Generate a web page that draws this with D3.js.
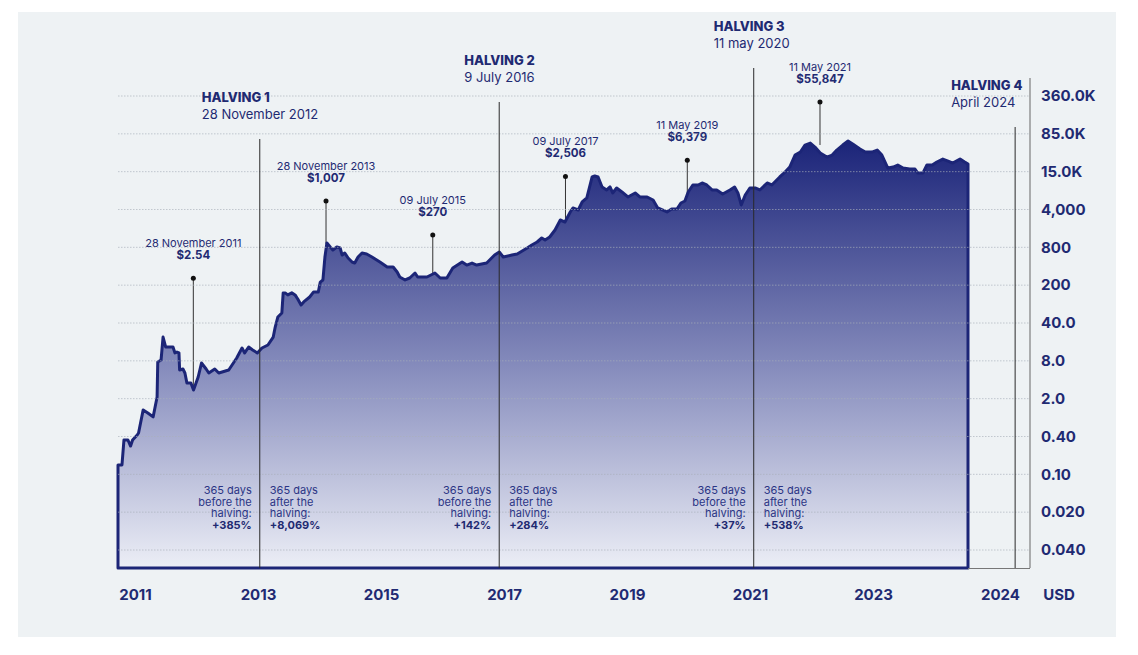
<!DOCTYPE html>
<html>
<head>
<meta charset="utf-8">
<script src="https://cdn.jsdelivr.net/npm/d3@7"></script>
<style>
  html, body { margin: 0; padding: 0; background: #ffffff; }
  svg { display: block; font-family: Inter, "Noto Sans", "DejaVu Sans", sans-serif; }
</style>
</head>
<body>
<svg id="chart" width="1138" height="655"></svg>
<script>
// ---------------- DATA ----------------
// time in decimal years, price in USD
const dates = [2010.77,2010.83,2010.86,2010.92,2010.96,2010.99,2011.06,2011.08,2011.15,2011.22,2011.30,2011.36,2011.37,2011.42,2011.45,2011.49,2011.60,2011.63,2011.66,2011.69,2011.70,2011.75,2011.78,2011.81,2011.87,2011.91,2011.98,2012.03,2012.10,2012.14,2012.23,2012.29,2012.44,2012.49,2012.56,2012.64,2012.68,2012.74,2012.80,2012.87,2012.94,2013.03,2013.11,2013.14,2013.18,2013.24,2013.26,2013.29,2013.33,2013.39,2013.44,2013.48,2013.53,2013.57,2013.66,2013.72,2013.79,2013.82,2013.86,2013.89,2013.92,2013.97,2014.01,2014.07,2014.12,2014.15,2014.19,2014.24,2014.30,2014.34,2014.39,2014.45,2014.52,2014.60,2014.72,2014.83,2014.92,2014.98,2015.02,2015.10,2015.17,2015.25,2015.29,2015.43,2015.55,2015.63,2015.73,2015.82,2015.96,2016.03,2016.11,2016.18,2016.33,2016.45,2016.52,2016.58,2016.71,2016.79,2016.94,2017.01,2017.09,2017.16,2017.21,2017.28,2017.36,2017.44,2017.51,2017.59,2017.63,2017.71,2017.77,2017.84,2017.92,2017.96,2018.01,2018.07,2018.14,2018.19,2018.23,2018.29,2018.37,2018.46,2018.57,2018.64,2018.75,2018.84,2018.91,2019.05,2019.12,2019.20,2019.26,2019.32,2019.37,2019.44,2019.52,2019.58,2019.65,2019.73,2019.80,2019.89,2020.00,2020.07,2020.12,2020.17,2020.23,2020.30,2020.38,2020.45,2020.56,2020.63,2020.75,2020.83,2020.90,2020.98,2021.06,2021.13,2021.21,2021.28,2021.36,2021.46,2021.54,2021.61,2021.70,2021.78,2021.85,2021.96,2022.04,2022.14,2022.22,2022.29,2022.38,2022.46,2022.53,2022.61,2022.71,2022.79,2022.83,2022.91,2022.97,2023.05,2023.12,2023.21,2023.29,2023.36,2023.47,2023.54,2023.59];
const prices = [0.141,0.141,0.352,0.352,0.282,0.352,0.427,0.465,1.24,1.09,0.92,2.12,7.66,8.29,22.0,14.4,14.4,11.2,11.6,11.2,5.71,5.93,5.12,3.55,3.55,2.74,4.42,7.38,5.93,5.12,5.93,5.12,5.71,6.86,9.02,13.8,11.2,14.4,12.7,11.2,13.8,15.7,22.0,33.7,51.7,61.3,144,144,132,144,132,111,86,98,121,150,150,224,242,561,962,812,725,812,780,603,649,541,467,450,561,649,626,561,467,389,389,324,270,242,260,312,270,270,312,260,260,375,467,418,450,418,450,603,674,561,603,626,780,884,1004,1190,1093,1241,1672,2559,2350,3597,4218,3916,5204,5984,12465,12910,12465,8790,7916,8790,7128,8487,7380,6196,7128,6196,6196,5579,4218,3597,4075,4075,5024,5386,7380,9423,9423,10106,9423,7916,7916,6883,7916,8790,7128,4685,6647,8487,8487,7916,10106,9423,12465,14840,18540,32150,36890,50850,55750,46400,35240,29330,32150,40440,50850,61100,53240,42330,36890,36890,40440,32150,17710,18540,20320,17710,16920,16920,14340,14340,20320,20320,23330,26760,24420,22270,26760,23330,21270];

const yTickLabels = ["360.0K","85.0K","15.0K","4,000","800","200","40.0","8.0","2.0","0.40","0.10","0.020","0.040"];
const yTickValues = [360000,85000,15000,4000,800,200,40,8,2,0.4,0.1];
const xTickYears = [2011,2013,2015,2017,2019,2021,2023,2024];
const unitLabel = "USD";

const halvingNames  = ["HALVING 1","HALVING 2","HALVING 3","HALVING 4"];
const halvingDates  = ["2012-11-28","2016-07-09","2020-05-11","2024-04-20"];
const halvingLabels = ["28 November 2012","9 July 2016","11 may 2020","April 2024"];
const beforePct = [385, 142, 37];
const afterPct  = [8069, 284, 538];

const annDates  = ["2011-11-28","2013-11-28","2015-07-09","2017-07-09","2019-05-11","2021-05-11"];
const annLabels = ["28 November 2011","28 November 2013","09 July 2015","09 July 2017","11 May 2019","11 May 2021"];
const annValues = [2.54, 1007, 270, 2506, 6379, 55847];

// ---------------- LAYOUT / STYLE ----------------
const W = 1138, H = 655;
const plotLeft = 118, plotRight = 968, axisX = 1030;
const gridTop = 96, gridBottom = 550, plotBottom = 568;
const navy = "#1c2577", textNavy = "#1f2a72";
const halvingTop = [139, 102, 68, 127];
const titleDx = [-58, -35, -40, -64];
const stemLen = [114, 41, 42, 44, 36, 41];

const svg = d3.select("#chart");
const parse = d3.utcParse("%Y-%m-%d");
function decYear(t) {
  const y = Math.floor(t);
  const a = Date.UTC(y, 0, 1), b = Date.UTC(y + 1, 0, 1);
  return new Date(a + (t - y) * (b - a));
}
const data = dates.map((t, i) => ({ date: decYear(t), value: prices[i] }));

// scales
const x = d3.scaleUtc().domain(d3.extent(data, d => d.date)).range([plotLeft, plotRight]);
const yGrid = d3.scalePoint().domain(yTickLabels).range([gridTop, gridBottom]);
const y = d3.scaleLog()
  .domain(yTickValues)
  .range(yTickValues.map((v, i) => yGrid(yTickLabels[i])));
const xLabel = d3.scaleLinear().domain([2011, 2023, 2024]).range([135, 873, 1000]);

// background panel
svg.append("rect").attr("x", 0).attr("y", 0).attr("width", W).attr("height", H).attr("fill", "#ffffff");
svg.append("rect").attr("x", 18).attr("y", 12).attr("width", 1098).attr("height", 625).attr("fill", "#eef2f4");

// gradient
const defs = svg.append("defs");
const grad = defs.append("linearGradient").attr("id", "areaGrad")
  .attr("gradientUnits", "userSpaceOnUse")
  .attr("x1", 0).attr("x2", 0)
  .attr("y1", y(d3.max(prices))).attr("y2", plotBottom);
grad.append("stop").attr("offset", 0).attr("stop-color", "#1b2479");
grad.append("stop").attr("offset", 0.55).attr("stop-color", "#8a90bf");
grad.append("stop").attr("offset", 1).attr("stop-color", "#eceef6");

// annotation stems + dots (behind area)
const ann = annDates.map((d, i) => ({ date: parse(d), label: annLabels[i], value: annValues[i], stem: stemLen[i] }));
const annG = svg.append("g");
ann.forEach(a => {
  const cx = x(a.date), cy = y(a.value) - a.stem;
  annG.append("line").attr("x1", cx).attr("x2", cx).attr("y1", cy).attr("y2", y(a.value) + 2)
    .attr("stroke", "#333").attr("stroke-width", 1);
  annG.append("circle").attr("cx", cx).attr("cy", cy).attr("r", 2.5).attr("fill", "#111");
  annG.append("text").attr("x", cx).attr("y", cy - 31).attr("text-anchor", "middle")
    .attr("font-size", 11).attr("fill", textNavy).text(a.label);
  annG.append("text").attr("x", cx).attr("y", cy - 19).attr("text-anchor", "middle")
    .attr("font-size", 11.5).attr("font-weight", 700).attr("fill", textNavy)
    .text(d3.format("$,")(a.value));
});

// area
const area = d3.area().x(d => x(d.date)).y0(plotBottom).y1(d => y(d.value));
svg.append("path").datum(data)
  .attr("d", area)
  .attr("fill", "url(#areaGrad)")
  .attr("stroke", navy).attr("stroke-width", 3).attr("stroke-linejoin", "round");

// gridlines (over area)
svg.append("g").selectAll("line").data(yTickLabels).join("line")
  .attr("x1", plotLeft).attr("x2", axisX)
  .attr("y1", d => yGrid(d)).attr("y2", d => yGrid(d))
  .attr("stroke", "#a9afba").attr("stroke-opacity", 0.65)
  .attr("stroke-width", 1).attr("stroke-dasharray", "1.5,1.5");

// right axis line and bottom extension
svg.append("line").attr("x1", axisX).attr("x2", axisX).attr("y1", 78).attr("y2", plotBottom)
  .attr("stroke", "#666").attr("stroke-width", 1);
svg.append("line").attr("x1", plotRight).attr("x2", axisX).attr("y1", plotBottom + 0.5).attr("y2", plotBottom + 0.5)
  .attr("stroke", "#777").attr("stroke-width", 1);

// halving lines + titles + bottom notes
const hv = halvingDates.map((d, i) => ({ date: parse(d), name: halvingNames[i], label: halvingLabels[i], i }));
const hG = svg.append("g");
hv.forEach(h => {
  const hx = x(h.date), top = halvingTop[h.i];
  hG.append("line").attr("x1", hx).attr("x2", hx).attr("y1", top).attr("y2", plotBottom)
    .attr("stroke", "#2a2a2a").attr("stroke-width", 1);
  hG.append("text").attr("x", hx + titleDx[h.i]).attr("y", top - 37)
    .attr("font-size", 13).attr("font-weight", 800).attr("fill", textNavy).text(h.name);
  hG.append("text").attr("x", hx + titleDx[h.i]).attr("y", top - 20)
    .attr("font-size", 13).attr("fill", textNavy).text(h.label);
  if (h.i < beforePct.length) {
    const lines = ["365 days", "before the", "halving:"];
    const t1 = hG.append("text").attr("text-anchor", "end").attr("font-size", 11).attr("fill", "#2b3585");
    lines.forEach((s, k) => t1.append("tspan").attr("x", hx - 8).attr("y", 494 + k * 11.7).text(s));
    t1.append("tspan").attr("x", hx - 8).attr("y", 494 + 3 * 11.7).attr("font-weight", 700).attr("fill", textNavy)
      .text(d3.format("+,")(beforePct[h.i]) + "%");
    const lines2 = ["365 days", "after the", "halving:"];
    const t2 = hG.append("text").attr("text-anchor", "start").attr("font-size", 11).attr("fill", "#2b3585");
    lines2.forEach((s, k) => t2.append("tspan").attr("x", hx + 10).attr("y", 494 + k * 11.7).text(s));
    t2.append("tspan").attr("x", hx + 10).attr("y", 494 + 3 * 11.7).attr("font-weight", 700).attr("fill", textNavy)
      .text(d3.format("+,")(afterPct[h.i]) + "%");
  }
});

// y axis (right)
const yAxis = svg.append("g").attr("transform", `translate(${axisX},0)`)
  .call(d3.axisRight(yGrid).tickSize(0).tickPadding(11));
yAxis.select(".domain").remove();
yAxis.selectAll("text").attr("font-size", 15).attr("font-weight", 700).attr("fill", textNavy)
  .attr("font-family", "Inter, 'Noto Sans', sans-serif");

// x axis labels
const xAxis = svg.append("g").attr("transform", `translate(0,${plotBottom})`)
  .call(d3.axisBottom(xLabel).tickValues(xTickYears).tickFormat(d3.format("d")).tickSize(0).tickPadding(21));
xAxis.select(".domain").remove();
xAxis.selectAll("text").attr("font-size", 15).attr("font-weight", 700).attr("fill", textNavy)
  .attr("font-family", "Inter, 'Noto Sans', sans-serif");
svg.append("text").attr("x", 1059).attr("y", 600).attr("text-anchor", "middle")
  .attr("font-size", 15).attr("font-weight", 700).attr("fill", textNavy).text(unitLabel);
</script>
</body>
</html>
